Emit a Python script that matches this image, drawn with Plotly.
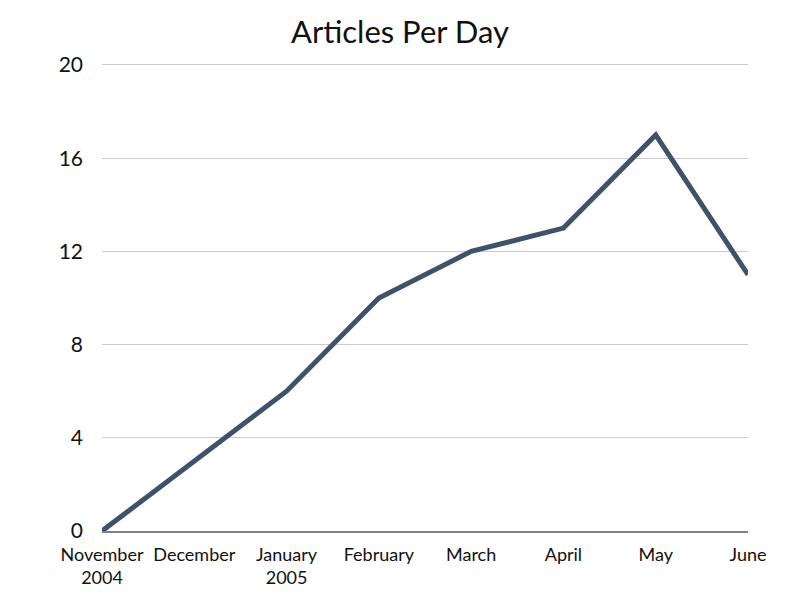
import plotly.graph_objects as go

months = ["November<br>2004", "December", "January<br>2005", "February",
          "March", "April", "May", "June"]
articles = [0, 3, 6, 10, 12, 13, 17, 11]
y_ticks = [0, 4, 8, 12, 16, 20]

x_pos = list(range(len(months)))

fig = go.Figure()
fig.add_trace(go.Scatter(
    x=x_pos, y=articles, mode="lines",
    line=dict(color="#3e536b", width=5),
    cliponaxis=False, hoverinfo="skip",
))

fig.update_layout(
    width=800, height=600,
    margin=dict(l=102, r=52, t=58, b=66),
    paper_bgcolor="white", plot_bgcolor="white",
    showlegend=False,
    title=dict(text="Articles Per Day", x=0.5, xanchor="center",
               y=0.947, yanchor="middle",
               font=dict(family="Lato", size=31, color="#111111")),
    font=dict(family="Lato", color="#111111"),
)
fig.update_xaxes(
    range=[0, len(months) - 1], tickmode="array", tickvals=x_pos,
    ticktext=months, showgrid=False, zeroline=False,
    showline=True, linecolor="#808080", linewidth=2,
    ticks="", tickfont=dict(size=18, family="Lato"), ticklabelstandoff=6,
)
fig.update_yaxes(
    range=[0, 20.3], tickmode="array", tickvals=y_ticks,
    showgrid=True, gridcolor="#cccccc", gridwidth=1, zeroline=False,
    showline=False, ticks="", ticklabelstandoff=18,
    tickfont=dict(size=21, family="Lato"),
)

fig.write_html("out.html")
